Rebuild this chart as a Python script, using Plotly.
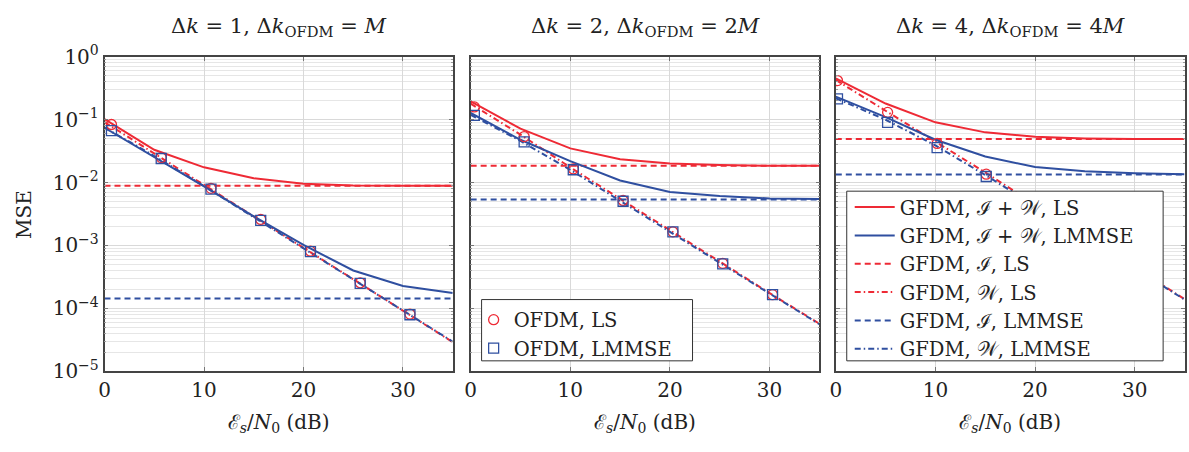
import plotly.graph_objects as go

# ---------------- data ----------------
snr = [0, 5, 10, 15, 20, 25, 30, 35]

panel_titles = [
    "Δ<i>k</i> = 1, Δ<i>k</i><sub>OFDM</sub> = <i>M</i>",
    "Δ<i>k</i> = 2, Δ<i>k</i><sub>OFDM</sub> = 2<i>M</i>",
    "Δ<i>k</i> = 4, Δ<i>k</i><sub>OFDM</sub> = 4<i>M</i>",
]

# GFDM, I+W, LS
iw_ls = [
    [0.102, 0.0333, 0.0175, 0.0117, 0.0096, 0.0090, 0.0089, 0.0089],
    [0.196, 0.072, 0.035, 0.0236, 0.0201, 0.0190, 0.0185, 0.0185],
    [0.455, 0.181, 0.091, 0.063, 0.0535, 0.0505, 0.0493, 0.0493],
]
# GFDM, I+W, LMMSE
iw_lmmse = [
    [0.0746, 0.0256, 0.0087, 0.0029, 0.00102, 0.00040, 0.000226, 0.000175],
    [0.128, 0.048, 0.022, 0.0108, 0.0071, 0.0061, 0.0056, 0.0055],
    [0.233, 0.110, 0.048, 0.026, 0.0177, 0.0151, 0.0141, 0.0136],
]
# GFDM, I, LS (constant floor)
i_ls = [0.0089, 0.0185, 0.0493]
# GFDM, I, LMMSE (constant floor)
i_lmmse = [0.000143, 0.0054, 0.0134]
# GFDM, W, LS
w_ls = [
    [0.092, 0.029, 0.0092, 0.0029, 0.00092, 0.00029, 0.000092, 0.000029],
    [0.180, 0.058, 0.0175, 0.0055, 0.00175, 0.00055, 0.000175, 0.000057],
    [0.430, 0.140, 0.045, 0.0145, 0.0045, 0.0014, 0.00044, 0.000140],
]
# GFDM, W, LMMSE
w_lmmse = [
    [0.075, 0.0265, 0.0088, 0.0028, 0.00090, 0.00029, 0.000092, 0.0000295],
    [0.120, 0.046, 0.016, 0.0052, 0.00165, 0.00053, 0.00017, 0.000056],
    [0.220, 0.100, 0.039, 0.0132, 0.0043, 0.00137, 0.000435, 0.000138],
]
# OFDM marker positions and values
ofdm_snr = [
    [0.7, 5.7, 10.7, 15.7, 20.7, 25.7, 30.7],
    [0.37, 5.37, 10.3, 15.3, 20.3, 25.3, 30.3],
    [0.17, 5.2, 10.17, 15.1, 20.1, 25.1, 30.1],
]
ofdm_ls = [
    [0.084, 0.025, 0.0081, 0.0026, 0.00081, 0.000255, 0.000081],
    [0.160, 0.054, 0.0165, 0.0052, 0.00165, 0.00052, 0.000165],
    [0.420, 0.131, 0.042, 0.0136, 0.0043, 0.00136, 0.00043],
]
ofdm_lmmse = [
    [0.067, 0.0242, 0.0079, 0.0025, 0.00080, 0.00025, 0.000079],
    [0.117, 0.0445, 0.016, 0.00505, 0.00164, 0.00051, 0.000165],
    [0.215, 0.091, 0.036, 0.0125, 0.0040, 0.00127, 0.00040],
]

y_ticks = [1e-5, 1e-4, 1e-3, 1e-2, 1e-1, 1]
y_ticktext = ["10<sup>−5</sup>", "10<sup>−4</sup>", "10<sup>−3</sup>",
              "10<sup>−2</sup>", "10<sup>−1</sup>", "10<sup>0</sup>"]
x_ticks = [0, 10, 20, 30]

# ---------------- style ----------------
RED = "#ee2a35"
BLUE = "#2f4fa0"
FONT = "DejaVu Serif, Liberation Serif, serif"
FS = 20
LEG_FS = 19.5
DASH = "6px,4px"
DASHDOT = "6px,3px,1.5px,3px"
LW = 2
TXT = "#222222"

W = 1189
H = 452
x_domains = [[99 / W, 449 / W], [467 / W, 817.5 / W], [834 / W, 1184.5 / W]]
y_domain = [1 - 379 / H, 1 - 45.5 / H]

minor_vals = [m * 10 ** e for e in range(-5, 0) for m in range(2, 10)]

fig = go.Figure()

for p in range(3):
    xa = "x" if p == 0 else f"x{p + 1}"
    ya = "y" if p == 0 else f"y{p + 1}"
    common = dict(xaxis=xa, yaxis=ya, mode="lines", legend="legend")
    fig.add_trace(go.Scatter(x=snr, y=w_ls[p], line=dict(color=RED, width=LW, dash=DASHDOT),
                             name="GFDM, 𝒲, LS", showlegend=False, **common))
    fig.add_trace(go.Scatter(x=snr, y=w_lmmse[p], line=dict(color=BLUE, width=LW, dash=DASHDOT),
                             name="GFDM, 𝒲, LMMSE", showlegend=False, **common))
    fig.add_trace(go.Scatter(x=[snr[0], snr[-1]], y=[i_ls[p], i_ls[p]],
                             line=dict(color=RED, width=LW, dash=DASH),
                             name="GFDM, ℐ, LS", showlegend=False, **common))
    fig.add_trace(go.Scatter(x=[snr[0], snr[-1]], y=[i_lmmse[p], i_lmmse[p]],
                             line=dict(color=BLUE, width=LW, dash=DASH),
                             name="GFDM, ℐ, LMMSE", showlegend=False, **common))
    fig.add_trace(go.Scatter(x=snr, y=iw_ls[p], line=dict(color=RED, width=LW),
                             name="GFDM, ℐ + 𝒲, LS", showlegend=False, **common))
    fig.add_trace(go.Scatter(x=snr, y=iw_lmmse[p], line=dict(color=BLUE, width=LW),
                             name="GFDM, ℐ + 𝒲, LMMSE", showlegend=False, **common))
    fig.add_trace(go.Scatter(x=ofdm_snr[p], y=ofdm_ls[p], xaxis=xa, yaxis=ya, mode="markers",
                             marker=dict(symbol="circle-open", size=10, color=RED, line=dict(width=1.3)),
                             name="OFDM, LS", showlegend=(p == 1), legend="legend2"))
    fig.add_trace(go.Scatter(x=ofdm_snr[p], y=ofdm_lmmse[p], xaxis=xa, yaxis=ya, mode="markers",
                             marker=dict(symbol="square-open", size=10, color=BLUE, line=dict(width=1.3)),
                             name="OFDM, LMMSE", showlegend=(p == 1), legend="legend2"))

# legend entries for GFDM curves (ordered as in reference)
leg_items = [
    ("GFDM, ℐ + 𝒲, LS", RED, "solid"),
    ("GFDM, ℐ + 𝒲, LMMSE", BLUE, "solid"),
    ("GFDM, ℐ, LS", RED, DASH),
    ("GFDM, 𝒲, LS", RED, DASHDOT),
    ("GFDM, ℐ, LMMSE", BLUE, DASH),
    ("GFDM, 𝒲, LMMSE", BLUE, DASHDOT),
]
for name, col, dash in leg_items:
    fig.add_trace(go.Scatter(x=[None], y=[None], xaxis="x3", yaxis="y3", mode="lines",
                             line=dict(color=col, width=LW, dash=dash), name=name,
                             showlegend=True, legend="legend"))

axis_common = dict(
    showline=True, linecolor="#444444", linewidth=1.5, mirror="allticks",
    ticks="inside", ticklen=4, tickcolor="#777777",
    gridcolor="#d9d9d9", gridwidth=1, zeroline=False,
    tickfont=dict(family=FONT, size=FS, color=TXT),
)

layout = dict(
    width=W, height=H, margin=dict(l=0, r=0, t=0, b=0),
    plot_bgcolor="white", paper_bgcolor="white",
    font=dict(family=FONT, color=TXT),
)
for p in range(3):
    xk = "xaxis" if p == 0 else f"xaxis{p + 1}"
    yk = "yaxis" if p == 0 else f"yaxis{p + 1}"
    layout[xk] = dict(domain=x_domains[p], range=[0, 35], tickmode="array", tickvals=x_ticks,
                      anchor="y" if p == 0 else f"y{p + 1}",
                      title=dict(text="ℰ<sub><i>s</i></sub>/<i>N</i><sub>0</sub> (dB)",
                                 font=dict(family=FONT, size=FS), standoff=14),
                      **axis_common)
    layout[yk] = dict(domain=y_domain, type="log", range=[-5, 0], tickmode="array",
                      tickvals=y_ticks, ticktext=y_ticktext, showticklabels=(p == 0),
                      anchor="x" if p == 0 else f"x{p + 1}",
                      minor=dict(tickmode="array", tickvals=minor_vals, showgrid=True,
                                 gridcolor="#e6e6e6", ticks="inside", ticklen=2, tickcolor="#999999"),
                      **axis_common)

leg_common = dict(xanchor="left", yanchor="top",
                  bgcolor="rgba(0,0,0,0)", borderwidth=0,
                  font=dict(family=FONT, size=LEG_FS, color=TXT),
                  tracegroupgap=0)
layout["legend"] = dict(x=848 / W, y=1 - 184.5 / H, itemwidth=40, **leg_common)
layout["legend2"] = dict(x=470 / W, y=1 - 304 / H, itemwidth=30, **leg_common)

# white legend boxes (drawn above the curves, below the legend text)
layout["shapes"] = [
    dict(type="rect", xref="paper", yref="paper", x0=845 / W, x1=1163 / W,
         y0=1 - 368 / H, y1=1 - 188 / H, fillcolor="white",
         line=dict(color="#333333", width=1), layer="above"),
    dict(type="rect", xref="paper", yref="paper", x0=478 / W, x1=690 / W,
         y0=1 - 368 / H, y1=1 - 303 / H, fillcolor="white",
         line=dict(color="#333333", width=1), layer="above"),
]

fig.update_layout(**layout)

xc = [(d[0] + d[1]) / 2 for d in x_domains]
for p in range(3):
    fig.add_annotation(x=xc[p], y=1 - 14 / H, xref="paper", yref="paper", text=panel_titles[p],
                       showarrow=False, font=dict(family=FONT, size=FS + 1, color=TXT),
                       xanchor="center", yanchor="middle")
fig.add_annotation(x=18 / W, y=(y_domain[0] + y_domain[1]) / 2, xref="paper", yref="paper",
                   text="MSE", textangle=-90, showarrow=False,
                   font=dict(family=FONT, size=FS, color=TXT),
                   xanchor="center", yanchor="middle")

fig.write_html("out.html")
